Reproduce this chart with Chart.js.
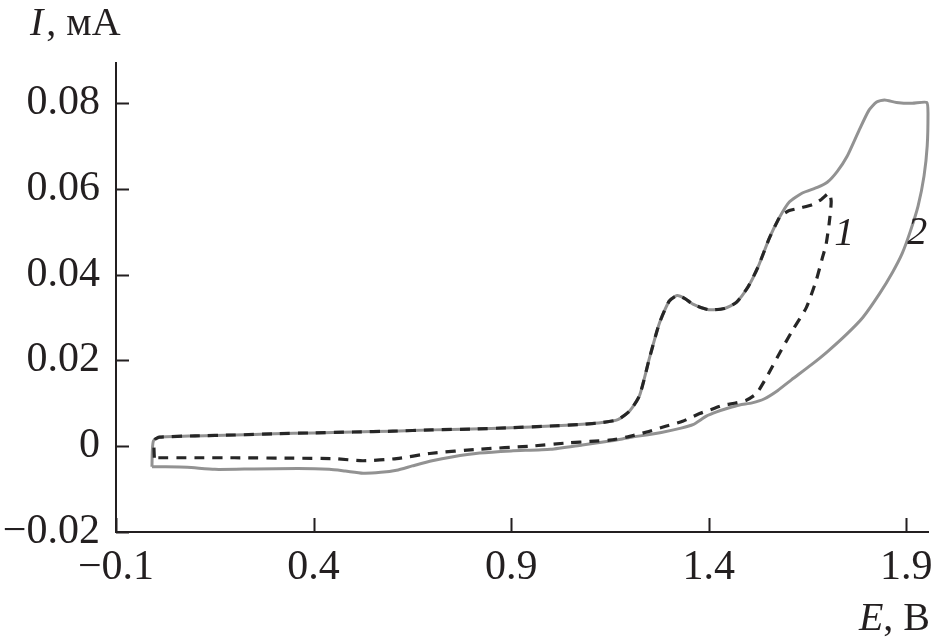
<!DOCTYPE html>
<html>
<head>
<meta charset="utf-8">
<script src="https://cdn.jsdelivr.net/npm/chart.js@4/dist/chart.umd.min.js"></script>
<style>
  html, body { margin: 0; padding: 0; background: #fff; }
  #wrap { width: 940px; height: 642px; }
</style>
</head>
<body>
<div id="wrap"><canvas id="cvChart" width="940" height="642"></canvas></div>
<script>
// axis ticks
let xTicks = [-0.1, 0.4, 0.9, 1.4, 1.9]
let xTickLabels = ['\u22120.1', '0.4', '0.9', '1.4', '1.9']
let yTicks = [-0.02, 0, 0.02, 0.04, 0.06, 0.08]
let yTickLabels = ['\u22120.02', '0', '0.02', '0.04', '0.06', '0.08']

// curve 1 (dashed) - potential E, V and current I, mA
let curve1E = [-0.003, -0.004, -0.002, 0.01, 0.1, 0.2, 0.3, 0.4, 0.5, 0.6, 0.7, 0.8, 0.9, 1.0, 1.08, 1.13, 1.17, 1.2, 1.225, 1.25, 1.275, 1.3, 1.32, 1.34, 1.36, 1.4, 1.44, 1.47, 1.5, 1.525, 1.554, 1.579,
  1.587, 1.604, 1.635, 1.662, 1.685, 1.705, 1.71, 1.705, 1.697, 1.688, 1.672, 1.647, 1.612, 1.579, 1.546, 1.521, 1.495, 1.465, 1.435, 1.405, 1.377, 1.334, 1.293, 1.243, 1.192, 1.149, 1.099, 1.048, 0.947, 0.82, 0.694, 0.61, 0.525, 0.45, 0.35, 0.2, 0.1, -0.003]
let curve1I = [-0.0027, 0.0, 0.0015, 0.0021, 0.0024, 0.0026, 0.0029, 0.0031, 0.0033, 0.0035, 0.0038, 0.004, 0.0043, 0.0047, 0.0051, 0.0055, 0.0062, 0.0082, 0.0118, 0.0205, 0.0286, 0.0338, 0.0351, 0.0344, 0.0331, 0.0318, 0.0321, 0.0335, 0.0372, 0.0418, 0.0486, 0.0533,
  0.054, 0.0549, 0.0556, 0.0563, 0.0575, 0.059, 0.057, 0.052, 0.047, 0.044, 0.0386, 0.0323, 0.027, 0.0216, 0.016, 0.0123, 0.0107, 0.01, 0.0095, 0.0085, 0.0076, 0.0058, 0.0047, 0.0033, 0.0021, 0.0014, 0.0011, 0.0008, 0.0, -0.0007, -0.0017, -0.0029, -0.0034, -0.0029, -0.0028, -0.0027, -0.0027, -0.0027]

// curve 2 (grey solid)
let curve2E = [-0.009, -0.008, -0.005, 0.01, 0.1, 0.2, 0.3, 0.4, 0.5, 0.6, 0.7, 0.8, 0.9, 1.0, 1.08, 1.13, 1.17, 1.2, 1.225, 1.25, 1.275, 1.3, 1.32, 1.34, 1.36, 1.4, 1.44, 1.47, 1.5, 1.525, 1.554, 1.579, 1.604, 1.637, 1.675, 1.7, 1.725, 1.75, 1.78, 1.805, 1.825, 1.845, 1.875, 1.915, 1.952,
  1.955, 1.953, 1.945, 1.93, 1.91, 1.89, 1.865, 1.832, 1.79, 1.748, 1.7, 1.66, 1.61, 1.575, 1.54, 1.51, 1.478, 1.45, 1.42, 1.394, 1.36, 1.33, 1.28, 1.2, 1.15, 1.08, 1.0, 0.9, 0.82, 0.75, 0.7, 0.65, 0.61, 0.57, 0.525, 0.48, 0.44, 0.36, 0.25, 0.15, 0.08, 0.02, -0.009]
let curve2I = [-0.0048, -0.001, 0.0013, 0.0021, 0.0024, 0.0026, 0.0029, 0.0031, 0.0033, 0.0035, 0.0038, 0.004, 0.0043, 0.0047, 0.0051, 0.0055, 0.0062, 0.0082, 0.0118, 0.0205, 0.0286, 0.0338, 0.0351, 0.0344, 0.0331, 0.0318, 0.0321, 0.0335, 0.0372, 0.0418, 0.0486, 0.0533, 0.0569, 0.059, 0.0603, 0.0615, 0.064, 0.0675, 0.0735, 0.0782, 0.0802, 0.0807, 0.0801, 0.0799, 0.0801,
  0.0775, 0.07, 0.063, 0.056, 0.05, 0.045, 0.0405, 0.0355, 0.03, 0.026, 0.022, 0.019, 0.0155, 0.013, 0.011, 0.0101, 0.0096, 0.0089, 0.008, 0.007, 0.005, 0.0042, 0.0032, 0.002, 0.0012, 0.0003, -0.0007, -0.0011, -0.0016, -0.0025, -0.0034, -0.0046, -0.0056, -0.0061, -0.0063, -0.0058, -0.0054, -0.0052, -0.0053, -0.0054, -0.0049, -0.0048, -0.0048]

// curve number labels
let curveNames = ['1', '2']
let curveNameE = [1.743, 1.928]
let curveNameI = [0.0493, 0.0495]

let serif = '"Liberation Serif", "Times New Roman", serif'
let ink = '#231f20'

function toPoints(es, is) {
    return es.map((e, i) => ({ x: e, y: is[i] }))
}

// inward tick marks, axis titles and curve numbers
let overlay = {
    id: 'overlay',
    afterDraw(chart) {
        let ctx = chart.ctx
        let xs = chart.scales.x
        let ys = chart.scales.y
        let area = chart.chartArea
        ctx.save()
        ctx.strokeStyle = ink
        ctx.lineWidth = 2
        ctx.beginPath()
        xTicks.forEach(v => {
            let px = Math.round(xs.getPixelForValue(v)) + 0.5
            ctx.moveTo(px, area.bottom)
            ctx.lineTo(px, area.bottom - 14)
        })
        yTicks.forEach(v => {
            let py = Math.round(ys.getPixelForValue(v)) + 0.5
            ctx.moveTo(area.left, py)
            ctx.lineTo(area.left + 13, py)
        })
        ctx.stroke()

        ctx.fillStyle = ink
        ctx.textBaseline = 'alphabetic'
        ctx.textAlign = 'left'
        // y title
        ctx.font = 'italic 40px ' + serif
        ctx.fillText('I', 30, 35)
        let w = ctx.measureText('I').width
        ctx.font = '40px ' + serif
        ctx.fillText(', мА', 30 + w + 3, 35)
        // x title
        ctx.font = '40px ' + serif
        let w2 = ctx.measureText(', В').width
        ctx.fillText(', В', 930 - w2, 630)
        ctx.font = 'italic 40px ' + serif
        let w1 = ctx.measureText('E').width
        ctx.fillText('E', 930 - w2 - w1, 630)

        // curve numbers
        ctx.font = 'italic 40px ' + serif
        ctx.textAlign = 'center'
        ctx.textBaseline = 'middle'
        curveNames.forEach((n, i) => {
            ctx.fillText(n, xs.getPixelForValue(curveNameE[i]), ys.getPixelForValue(curveNameI[i]))
        })
        ctx.restore()
    }
}

let ctx = document.getElementById('cvChart').getContext('2d')

let cvChart = new Chart(ctx, {
    type: 'scatter',
    data: {
        datasets: [
            {
                label: '1',
                data: toPoints(curve1E, curve1I),
                showLine: true,
                borderColor: '#262626',
                borderWidth: 3.2,
                borderDash: [10, 8],
                pointRadius: 0,
                tension: 0.2,
                clip: false
            },
            {
                label: '2',
                data: toPoints(curve2E, curve2I),
                showLine: true,
                borderColor: '#929292',
                borderWidth: 3,
                pointRadius: 0,
                tension: 0.2,
                clip: false
            }
        ]
    },
    options: {
        responsive: false,
        animation: false,
        layout: { padding: { top: 63, right: 12, left: 0, bottom: 0 } },
        plugins: {
            legend: { display: false },
            tooltip: { enabled: false }
        },
        scales: {
            x: {
                type: 'linear',
                min: -0.1,
                max: 1.955,
                afterBuildTicks: s => { s.ticks = xTicks.map(v => ({ value: v })) },
                afterFit: s => {
                    s.height = 110
                    s.paddingLeft = 0
                    s.paddingRight = 0
                },
                grid: { display: false, drawTicks: false },
                border: { display: true, color: ink, width: 2 },
                ticks: {
                    color: ink,
                    padding: 11,
                    maxRotation: 0,
                    font: { family: serif, size: 42 },
                    callback: (v, i) => xTickLabels[i]
                }
            },
            y: {
                type: 'linear',
                min: -0.02,
                max: 0.0893,
                afterBuildTicks: s => { s.ticks = yTicks.map(v => ({ value: v })) },
                afterFit: s => {
                    s.width = 116
                    s.paddingTop = 0
                    s.paddingBottom = 0
                },
                grid: { display: false, drawTicks: false },
                border: { display: true, color: ink, width: 2 },
                ticks: {
                    color: ink,
                    padding: 16,
                    font: { family: serif, size: 42 },
                    callback: (v, i) => yTickLabels[i]
                }
            }
        }
    },
    plugins: [overlay]
})
</script>
</body>
</html>
